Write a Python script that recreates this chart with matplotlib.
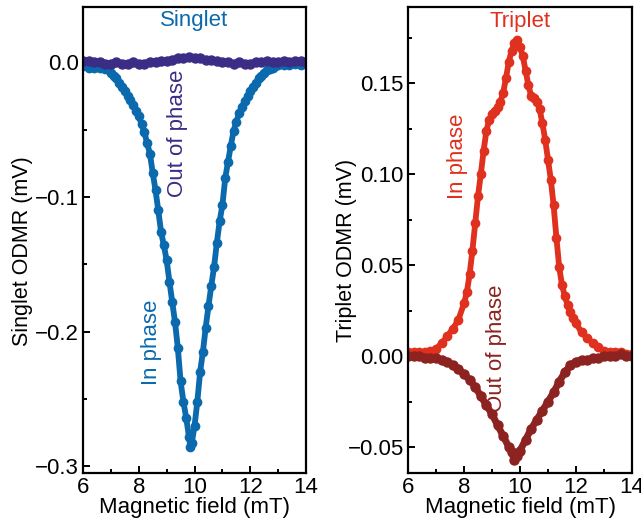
import numpy as np
import matplotlib
matplotlib.use("Agg")
from matplotlib import pyplot as plt
from matplotlib.ticker import MultipleLocator, FuncFormatter

plt.rcParams['font.family'] = ['Liberation Sans', 'DejaVu Sans']

# singlet, in phase
s_in_x = [6.0, 6.2, 6.4, 6.6, 6.8, 7.0, 7.1, 7.2, 7.3, 7.4, 7.5, 7.6, 7.7, 7.8, 7.9,
          8.0, 8.1, 8.2, 8.3, 8.4, 8.5, 8.6, 8.7, 8.8, 8.9, 9.0, 9.1, 9.2, 9.3, 9.4,
          9.5, 9.6, 9.7, 9.8, 9.85, 9.9, 10.0, 10.1, 10.2, 10.3, 10.4, 10.5, 10.6,
          10.7, 10.8, 10.9, 11.0, 11.1, 11.2, 11.3, 11.4, 11.5, 11.6, 11.7, 11.8,
          11.9, 12.0, 12.1, 12.2, 12.3, 12.4, 12.5, 12.6, 12.7, 12.8, 12.9, 13.0,
          13.2, 13.4, 13.6, 13.8, 14.0]
s_in_y = [-0.003, -0.004, -0.004, -0.004, -0.005, -0.008, -0.010, -0.012, -0.015,
          -0.018, -0.021, -0.025, -0.028, -0.032, -0.036, -0.040, -0.046, -0.052,
          -0.060, -0.068, -0.082, -0.095, -0.110, -0.126, -0.136, -0.147, -0.163,
          -0.178, -0.193, -0.212, -0.237, -0.252, -0.264, -0.278, -0.286, -0.283,
          -0.270, -0.252, -0.230, -0.215, -0.197, -0.181, -0.166, -0.152, -0.134,
          -0.118, -0.106, -0.086, -0.074, -0.062, -0.051, -0.044, -0.038, -0.033,
          -0.029, -0.025, -0.021, -0.018, -0.015, -0.012, -0.010, -0.008, -0.006,
          -0.005, -0.004, -0.003, -0.002, -0.002, -0.002, -0.001, -0.002, -0.001]

# singlet, out of phase
s_out_x = [6.0, 6.2, 6.4, 6.6, 6.8, 7.0, 7.2, 7.4, 7.6, 7.8, 8.0, 8.2, 8.4, 8.6, 8.8,
           9.0, 9.2, 9.4, 9.6, 9.8, 10.0, 10.2, 10.4, 10.6, 10.8, 11.0, 11.2, 11.4,
           11.6, 11.8, 12.0, 12.2, 12.4, 12.6, 12.8, 13.0, 13.2, 13.4, 13.6, 13.8, 14.0]
s_out_y = [0.001, 0.001, 0.000, 0.000, -0.001, -0.001, 0.000, -0.001, -0.001, 0.000,
           -0.001, -0.001, 0.000, 0.000, 0.001, 0.001, 0.002, 0.003, 0.003, 0.004,
           0.003, 0.003, 0.002, 0.002, 0.001, 0.000, 0.000, -0.001, 0.000, -0.001,
           -0.001, 0.000, 0.000, 0.001, 0.000, 0.000, 0.001, 0.000, 0.001, 0.001, 0.000]

# triplet, in phase
t_in_x = [6.0, 6.2, 6.4, 6.6, 6.8, 7.0, 7.2, 7.4, 7.6, 7.8, 8.0, 8.1, 8.2, 8.3, 8.4,
          8.5, 8.6, 8.7, 8.8, 8.9, 9.0, 9.1, 9.2, 9.3, 9.4, 9.5, 9.6, 9.7, 9.8, 9.9,
          10.0, 10.1, 10.2, 10.3, 10.4, 10.5, 10.6, 10.7, 10.8, 10.9, 11.0, 11.1,
          11.2, 11.3, 11.4, 11.5, 11.6, 11.7, 11.8, 11.9, 12.0, 12.2, 12.4, 12.6,
          12.8, 13.0, 13.2, 13.4, 13.6, 13.8, 14.0]
t_in_y = [0.002, 0.002, 0.002, 0.002, 0.003, 0.004, 0.007, 0.011, 0.015, 0.020,
          0.029, 0.035, 0.045, 0.058, 0.073, 0.088, 0.100, 0.113, 0.124, 0.130,
          0.133, 0.135, 0.137, 0.140, 0.145, 0.153, 0.162, 0.168, 0.172, 0.174,
          0.170, 0.165, 0.157, 0.149, 0.143, 0.142, 0.140, 0.136, 0.128, 0.119,
          0.108, 0.097, 0.083, 0.065, 0.049, 0.039, 0.033, 0.028, 0.024, 0.021,
          0.018, 0.013, 0.010, 0.007, 0.005, 0.003, 0.002, 0.002, 0.002, 0.001, 0.001]

# triplet, out of phase
t_out_x = [6.0, 6.2, 6.4, 6.6, 6.8, 7.0, 7.2, 7.4, 7.6, 7.8, 8.0, 8.2, 8.4, 8.6, 8.8,
           9.0, 9.2, 9.4, 9.6, 9.7, 9.8, 9.9, 10.0, 10.2, 10.4, 10.6, 10.8, 11.0,
           11.2, 11.4, 11.6, 11.8, 12.0, 12.2, 12.4, 12.6, 12.8, 13.0, 13.2, 13.4,
           13.6, 13.8, 14.0]
t_out_y = [0.000, 0.000, 0.000, -0.001, -0.001, -0.001, -0.002, -0.003, -0.005,
           -0.007, -0.010, -0.013, -0.017, -0.022, -0.027, -0.032, -0.038, -0.044,
           -0.050, -0.053, -0.057, -0.055, -0.052, -0.046, -0.040, -0.035, -0.030,
           -0.025, -0.020, -0.014, -0.009, -0.005, -0.003, -0.002, -0.002, -0.001,
           -0.001, 0.000, 0.000, 0.000, 0.001, 0.000, 0.000]

blue = '#0a6aad'
purple = '#3b2c86'
red = '#e0301e'
darkred = '#8c2320'

fig = plt.figure(figsize=(6.41, 5.27), dpi=100)
ax1 = fig.add_axes([0.1295, 0.1025, 0.348, 0.884])
ax2 = fig.add_axes([0.6365, 0.1025, 0.3495, 0.884])

FS = 16


def style(ax):
    for sp in ax.spines.values():
        sp.set_linewidth(1.6)
    ax.tick_params(which='both', direction='in', top=False, right=False,
                   labelsize=FS, width=1.4)
    ax.tick_params(which='major', length=5, pad=3)
    ax.tick_params(which='minor', length=3)
    ax.set_xlim(6, 14)
    ax.xaxis.set_major_locator(MultipleLocator(2))
    ax.xaxis.set_minor_locator(MultipleLocator(1))
    ax.set_xlabel("Magnetic field (mT)", fontsize=FS, labelpad=-1)


def minus(fmt):
    return FuncFormatter(lambda v, p: (fmt % v).replace('-', '\u2212'))


# singlet
ax1.plot(s_in_x, s_in_y, '-o', color=blue, lw=4.2, ms=6)
ax1.plot(s_out_x, s_out_y, '-o', color=purple, lw=5, ms=6.5)
style(ax1)
ax1.set_ylim(-0.305, 0.041)
ax1.yaxis.set_major_locator(MultipleLocator(0.1))
ax1.yaxis.set_minor_locator(MultipleLocator(0.05))
ax1.yaxis.set_major_formatter(minus('%.1f'))
ax1.set_ylabel("Singlet ODMR (mV)", fontsize=FS - 0.5)
ax1.yaxis.set_label_coords(-0.222, 0.476)
ax1.text(10, 0.031, "Singlet", color=blue, fontsize=FS, ha='center', va='center')
ax1.text(9.4, -0.053, "Out of phase", color=purple, fontsize=FS, rotation=90,
         ha='center', va='center')
ax1.text(8.45, -0.208, "In phase", color=blue, fontsize=FS, rotation=90,
         ha='center', va='center')

# triplet
ax2.plot(t_in_x, t_in_y, '-o', color=red, lw=4.2, ms=6)
ax2.plot(t_out_x, t_out_y, '-o', color=darkred, lw=5, ms=6.5)
style(ax2)
ax2.set_ylim(-0.0643, 0.192)
ax2.yaxis.set_major_locator(MultipleLocator(0.05))
ax2.yaxis.set_minor_locator(MultipleLocator(0.025))
ax2.yaxis.set_major_formatter(minus('%.2f'))
ax2.set_ylabel("Triplet ODMR (mV)", fontsize=FS - 0.5)
ax2.yaxis.set_label_coords(-0.226, 0.478)
ax2.text(10, 0.184, "Triplet", color=red, fontsize=FS, ha='center', va='center')
ax2.text(7.78, 0.110, "In phase", color=red, fontsize=FS, rotation=90,
         ha='center', va='center')
ax2.text(9.17, 0.0044, "Out of phase", color=darkred, fontsize=FS, rotation=90,
         ha='center', va='center')

fig.savefig("out.png", dpi=100)
